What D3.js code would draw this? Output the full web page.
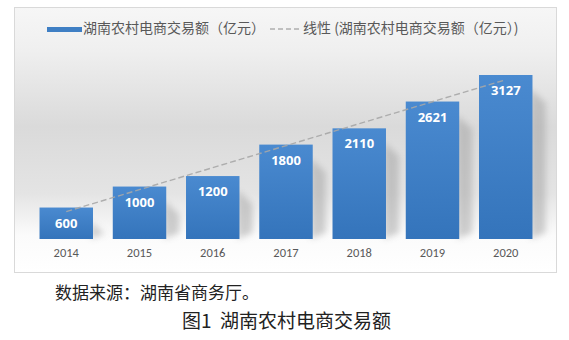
<!DOCTYPE html>
<html><head><meta charset="utf-8">
<script src="https://cdn.jsdelivr.net/npm/d3@7/dist/d3.min.js"></script>
<style>body{margin:0;background:#fff;}svg{display:block;font-family:"Noto Sans CJK SC","Noto Sans",sans-serif;}</style>
</head><body>
<script>
const years = ["2014","2015","2016","2017","2018","2019","2020"];
const values = [600,1000,1200,1800,2110,2621,3127];
const seriesName = "湖南农村电商交易额（亿元）";
const trendName = "线性 (湖南农村电商交易额（亿元）)";
const sourceText = "数据来源：湖南省商务厅。";
const captionFig = "图1";
const captionText = "湖南农村电商交易额";

const W = 569, H = 340;
const svg = d3.select("body").append("svg").attr("width", W).attr("height", H);
const defs = svg.append("defs");

const bg = defs.append("linearGradient").attr("id","bg").attr("x1",0).attr("y1",0).attr("x2",0).attr("y2",1);
[["0%","#f6f6f6"],["15%","#f0f0f0"],["45%","#dadada"],["70%","#e4e4e4"],["86%","#fbfbfb"],["100%","#ffffff"]]
  .forEach(([o,c])=>bg.append("stop").attr("offset",o).attr("stop-color",c));

const bar = defs.append("linearGradient").attr("id","bar").attr("x1",0).attr("y1",0).attr("x2",0).attr("y2",1);
bar.append("stop").attr("offset","0%").attr("stop-color","#4a8ad0");
bar.append("stop").attr("offset","100%").attr("stop-color","#3474bb");

const blur = defs.append("filter").attr("id","blur").attr("x","-50%").attr("y","-50%").attr("width","200%").attr("height","200%");
blur.append("feGaussianBlur").attr("stdDeviation",3);

// chart box
svg.append("rect").attr("x",14.5).attr("y",7.5).attr("width",542).attr("height",265)
  .attr("fill","url(#bg)").attr("stroke","#d9d9d9").attr("stroke-width",1);

const x = d3.scaleBand().domain(years).range([30, 542]).paddingInner(0.27).paddingOuter(0.13);
const baseY = 239;
const y = d3.scaleLinear().domain([0, 3127]).range([baseY, 75]);

// shadows
svg.append("g").selectAll("path").data(values).join("path")
  .attr("d",(d,i)=>{
    const x1 = x(years[i]) + x.bandwidth();
    const t = y(d);
    return `M${x1-2},${t+14} L${x1+13},${t+28} L${x1+13},${baseY-6} L${x1-2},${baseY}Z`;
  })
  .attr("fill","#9a9a9a").attr("opacity",0.45).attr("filter","url(#blur)");

// bars
svg.append("g").selectAll("rect").data(values).join("rect")
  .attr("x",(d,i)=>x(years[i])).attr("y",d=>y(d))
  .attr("width",x.bandwidth()).attr("height",d=>baseY-y(d))
  .attr("fill","url(#bar)");

// bar labels
svg.append("g").selectAll("text").data(values).join("text")
  .attr("x",(d,i)=>x(years[i])+x.bandwidth()/2).attr("y",d=>y(d)+20)
  .attr("text-anchor","middle").attr("fill","#ffffff").attr("font-weight","bold")
  .attr("font-size",13).attr("font-family","'Open Sans','Noto Sans',sans-serif")
  .text(d=>d);

// trend line (least squares)
const n = values.length;
const mx = d3.mean(d3.range(n)), my = d3.mean(values);
const slope = d3.sum(values,(v,i)=>(i-mx)*(v-my)) / d3.sum(d3.range(n),i=>(i-mx)*(i-mx));
const icpt = my - slope*mx;
const cx = i => x(years[i]) + x.bandwidth()/2;
svg.append("line")
  .attr("x1",cx(0)).attr("y1",y(icpt))
  .attr("x2",cx(n-1)).attr("y2",y(icpt+slope*(n-1)))
  .attr("stroke","#a8a8a8").attr("stroke-width",1.4).attr("stroke-dasharray","6,3").attr("opacity",0.9);

// x axis labels
const xAxis = d3.axisBottom(x).tickSize(0).tickPadding(9);
const ax = svg.append("g").attr("transform",`translate(0,${baseY})`).call(xAxis);
ax.select(".domain").remove();
ax.selectAll("text").attr("fill","#595959").attr("font-size",12.5)
  .attr("font-family","Calibri,'Carlito','Liberation Sans',sans-serif");

// legend
const lg = svg.append("g");
lg.append("rect").attr("x",47).attr("y",27).attr("width",35).attr("height",5).attr("fill","#3f7fc4");
lg.append("text").attr("x",83).attr("y",33).attr("font-size",14).attr("fill","#595959").text(seriesName);
lg.append("line").attr("x1",270).attr("x2",300).attr("y1",29).attr("y2",29)
  .attr("stroke","#8c8c8c").attr("stroke-width",1).attr("stroke-dasharray","5,3");
lg.append("text").attr("x",303).attr("y",33).attr("font-size",14).attr("fill","#595959").text(trendName);

// source and caption
svg.append("text").attr("x",55).attr("y",299).attr("font-size",17).attr("fill","#222")
  .text(sourceText);
const cap = svg.append("text").attr("y",328).attr("font-size",19).attr("fill","#222");
cap.append("tspan").attr("x",182).text(captionFig);
cap.append("tspan").attr("x",220).text(captionText);
</script>
</body></html>
